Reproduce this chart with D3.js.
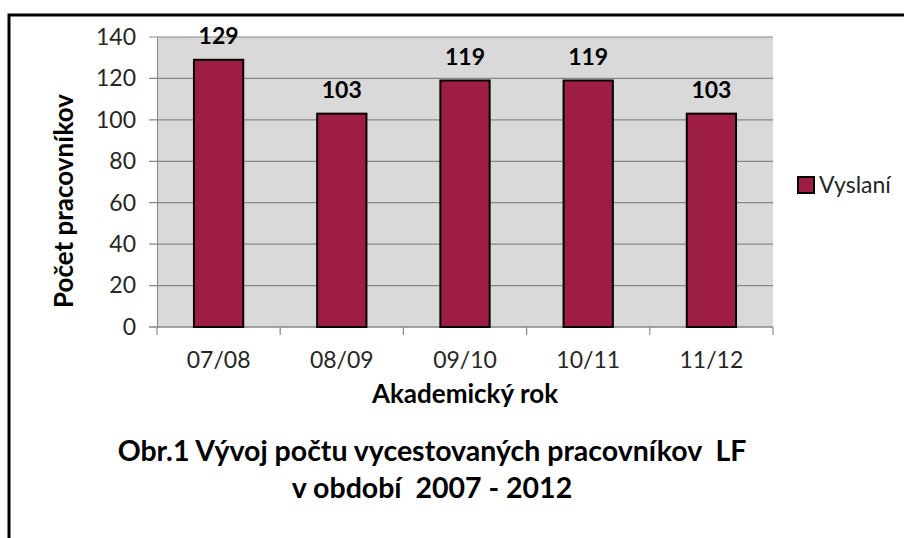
<!DOCTYPE html>
<html>
<head>
<meta charset="utf-8">
<script src="https://cdn.jsdelivr.net/npm/d3@7"></script>
<style>
  body { margin: 0; background: #fff; }
  svg { display: block; font-family: Lato, 'Open Sans', sans-serif; }
  .caption { white-space: pre; }
</style>
</head>
<body>
<svg width="904" height="538"></svg>
<script>
// data
const years = ['07/08', '08/09', '09/10', '10/11', '11/12']
const vyslani = [129, 103, 119, 119, 103]
const yTicks = [0, 20, 40, 60, 80, 100, 120, 140]

const svg = d3.select('svg')

// outer frame, runs off the right and bottom edge like the source
svg.append('rect')
  .attr('x', 9).attr('y', 15)
  .attr('width', 920).attr('height', 560)
  .attr('fill', 'none')
  .attr('stroke', '#000')
  .attr('stroke-width', 3)

const plot = {left: 157, right: 773, top: 37, bottom: 327}

const x = d3.scaleBand()
  .domain(years)
  .range([plot.left, plot.right])
  .paddingInner(0.6)
  .paddingOuter(0.3)

const xb = d3.scaleBand().domain(years).range([plot.left, plot.right])

const y = d3.scaleLinear()
  .domain([0, 140])
  .range([plot.bottom, plot.top])

// grey plot area
svg.append('rect')
  .attr('x', plot.left).attr('y', plot.top)
  .attr('width', plot.right - plot.left)
  .attr('height', plot.bottom - plot.top)
  .attr('fill', '#d9d9d9')

// horizontal grid
svg.append('g')
  .selectAll('line')
  .data(yTicks)
  .join('line')
  .attr('x1', plot.left - 8).attr('x2', plot.right)
  .attr('y1', d => y(d)).attr('y2', d => y(d))
  .attr('stroke', '#878787')
  .attr('stroke-width', 1.2)

// y axis
const yAxis = svg.append('g')
  .attr('transform', `translate(${plot.left},0)`)
  .call(d3.axisLeft(y).tickValues(yTicks).tickSize(0).tickPadding(21))
yAxis.select('.domain').attr('stroke', '#878787')
yAxis.selectAll('text')
  .attr('font-size', 23)
  .attr('fill', '#262626')
  .attr('font-family', 'Lato, sans-serif')

// x axis with ticks between categories
const xAxis = svg.append('g')
  .attr('transform', `translate(0,${plot.bottom})`)
  .call(d3.axisBottom(x).tickSize(0).tickPadding(25))
xAxis.select('.domain').remove()
xAxis.selectAll('text')
  .attr('font-size', 23)
  .attr('fill', '#262626')
  .attr('font-family', 'Lato, sans-serif')

svg.append('line')
  .attr('x1', plot.left - 8).attr('x2', plot.right)
  .attr('y1', plot.bottom).attr('y2', plot.bottom)
  .attr('stroke', '#878787').attr('stroke-width', 1.2)

svg.append('g')
  .selectAll('line')
  .data(years.map(d => xb(d)).concat([plot.right]))
  .join('line')
  .attr('x1', d => d).attr('x2', d => d)
  .attr('y1', plot.bottom).attr('y2', plot.bottom + 8)
  .attr('stroke', '#878787').attr('stroke-width', 1.2)

// bars
svg.append('g')
  .selectAll('rect')
  .data(vyslani)
  .join('rect')
  .attr('x', (d, i) => x(years[i]))
  .attr('y', d => y(d))
  .attr('width', x.bandwidth())
  .attr('height', d => plot.bottom - y(d))
  .attr('fill', '#9e1d44')
  .attr('stroke', '#000')
  .attr('stroke-width', 2)

// value labels
svg.append('g')
  .selectAll('text')
  .data(vyslani)
  .join('text')
  .attr('x', (d, i) => x(years[i]) + x.bandwidth() / 2)
  .attr('y', d => y(d) - 16)
  .attr('text-anchor', 'middle')
  .attr('font-size', 23)
  .attr('font-weight', 'bold')
  .text(d => d)

// axis titles
svg.append('text')
  .attr('transform', 'translate(73,201) rotate(-90)')
  .attr('text-anchor', 'middle')
  .attr('font-size', 26)
  .attr('font-weight', 'bold')
  .text('Počet pracovníkov')

svg.append('text')
  .attr('x', (plot.left + plot.right) / 2)
  .attr('y', 403)
  .attr('text-anchor', 'middle')
  .attr('font-size', 26)
  .attr('font-weight', 'bold')
  .text('Akademický rok')

// legend
svg.append('rect')
  .attr('x', 798).attr('y', 177)
  .attr('width', 16).attr('height', 16)
  .attr('fill', '#9e1d44')
  .attr('stroke', '#000').attr('stroke-width', 2)
svg.append('text')
  .attr('x', 819).attr('y', 193)
  .attr('font-size', 23)
  .attr('fill', '#262626')
  .text('Vyslaní')

// figure caption
svg.append('text')
  .attr('class', 'caption')
  .attr('x', 432).attr('y', 461)
  .attr('text-anchor', 'middle')
  .attr('font-size', 28.5)
  .attr('font-weight', 'bold')
  .text('Obr.1 Vývoj počtu vycestovaných pracovníkov  LF')
svg.append('text')
  .attr('class', 'caption')
  .attr('x', 432).attr('y', 498)
  .attr('text-anchor', 'middle')
  .attr('font-size', 28.5)
  .attr('font-weight', 'bold')
  .text('v období  2007 - 2012')
</script>
</body>
</html>
